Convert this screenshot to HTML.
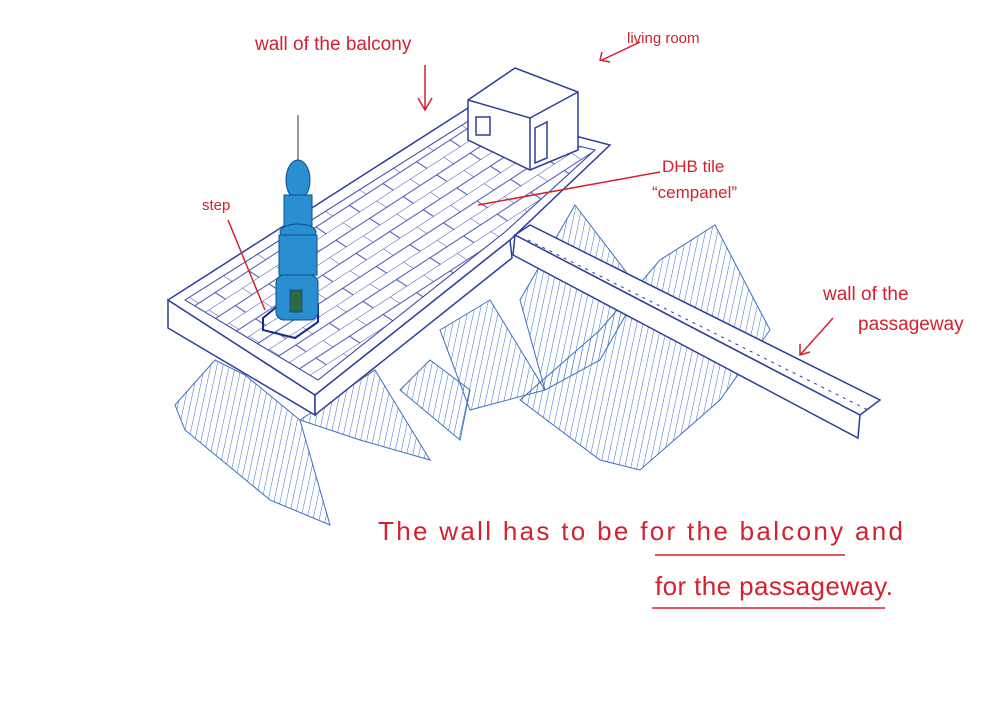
<!DOCTYPE html>
<html><head><meta charset="utf-8"><style>
html,body{margin:0;padding:0;background:#fff;}
svg{display:block}
.r{fill:#d4202f;font-family:"Liberation Sans",sans-serif;}
</style></head><body>
<svg width="1000" height="706" viewBox="0 0 1000 706" xmlns="http://www.w3.org/2000/svg">
<defs>
<pattern id="h" width="6" height="10" patternUnits="userSpaceOnUse" patternTransform="rotate(12)">
<line x1="0" y1="0" x2="0" y2="10" stroke="#3a6fc0" stroke-width="1"/>
</pattern>
<pattern id="t" width="40" height="24" patternUnits="userSpaceOnUse" patternTransform="matrix(0.839,-0.545,0.84,0.546,0,0)">
<path d="M0,0 H40 M0,0 V12 M20,12 V24 M0,12 H40" fill="none" stroke="#3040b0" stroke-width="1"/>
</pattern>
</defs>
<!-- mountains -->
<g fill="url(#h)" stroke="#3a6fc0" stroke-width="1">
<polygon points="175,405 215,360 245,375 300,420 330,525 270,500 185,430"/>
<polygon points="300,420 375,370 430,460 360,440"/>
<polygon points="400,390 430,360 470,390 460,440"/>
<polygon points="440,330 490,300 545,390 470,410"/>
<polygon points="520,300 575,205 640,290 600,360 545,390"/>
<polygon points="520,400 600,330 660,260 715,225 770,330 720,400 640,470 600,460"/>
</g>
<!-- balcony wall front -->
<polygon points="168,300 315,395 315,415 168,328" fill="#fff" stroke="#2c3e9e" stroke-width="1.5"/>
<polygon points="315,395 510,240 512,258 315,415" fill="#fff" stroke="#2c3e9e" stroke-width="1.5"/>
<!-- balcony top -->
<polygon points="168,300 468,108 610,145 510,240 315,395" fill="#fff" stroke="#2c3e9e" stroke-width="1.5"/>
<polygon points="185,300 470,120 595,150 505,232 318,380" fill="url(#t)" stroke="#2c3e9e" stroke-width="1"/>
<!-- passageway -->
<polygon points="515,235 530,225 880,400 860,415" fill="#fff" stroke="#2c3e9e" stroke-width="1.5"/>
<polygon points="515,235 860,415 858,438 513,255" fill="#fff" stroke="#2c3e9e" stroke-width="1.5"/>
<line x1="528" y1="240" x2="868" y2="410" stroke="#2c3e9e" stroke-dasharray="3,5" stroke-width="1"/>
<!-- house -->
<polygon points="468,100 515,68 578,92 578,150 530,170 468,140" fill="#fff" stroke="#2c3e9e" stroke-width="1.5"/>
<polyline points="468,100 530,118 578,92" fill="none" stroke="#2c3e9e" stroke-width="1.5"/>
<line x1="530" y1="118" x2="530" y2="170" stroke="#2c3e9e" stroke-width="1.5"/>
<rect x="476" y="117" width="14" height="18" fill="none" stroke="#2c3e9e" stroke-width="1.5"/>
<polygon points="535,128 547,122 547,158 535,163" fill="none" stroke="#2c3e9e" stroke-width="1.5"/>
<!-- tower -->
<polygon points="263,318 285,300 318,305 318,322 295,338 263,330" fill="none" stroke="#1a2a8a" stroke-width="2"/>
<g fill="#2a8fd0" stroke="#0c4c8e" stroke-width="1">
<line x1="298" y1="115" x2="298" y2="160" stroke="#333"/>
<ellipse cx="298" cy="180" rx="12" ry="20"/>
<rect x="284" y="195" width="28" height="35"/>
<ellipse cx="298" cy="232" rx="18" ry="8"/>
<rect x="279" y="235" width="38" height="40"/>
<rect x="276" y="275" width="42" height="45" rx="8"/>
<rect x="290" y="290" width="12" height="22" fill="#2e6a40"/>
</g>
<!-- red annotations -->
<g stroke="#d4202f" stroke-width="1.5" fill="none">
<path d="M425,65 L425,110 M418,98 L425,110 L432,98"/>
<path d="M640,42 L602,60 M602,52 L600,60 L610,62"/>
<path d="M660,172 L478,205"/>
<path d="M228,220 L265,310"/>
<path d="M833,318 L800,355 M800,344 L800,355 L810,352"/>
<path d="M655,555 L845,555"/>
<path d="M652,608 L885,608"/>
</g>
<text class="r" x="255" y="50" font-size="19">wall of the balcony</text>
<text class="r" x="627" y="43" font-size="15">living room</text>
<text class="r" x="662" y="172" font-size="17">DHB tile</text>
<text class="r" x="652" y="198" font-size="17">“cempanel”</text>
<text class="r" x="202" y="210" font-size="15">step</text>
<text class="r" x="823" y="300" font-size="19">wall of the</text>
<text class="r" x="858" y="330" font-size="19">passageway</text>
<text class="r" x="378" y="540" font-size="26" textLength="525" lengthAdjust="spacing">The wall  has to be  for the balcony  and</text>
<text class="r" x="655" y="595" font-size="26" textLength="238" lengthAdjust="spacing">for the passageway.</text>
</svg>
</body></html>
